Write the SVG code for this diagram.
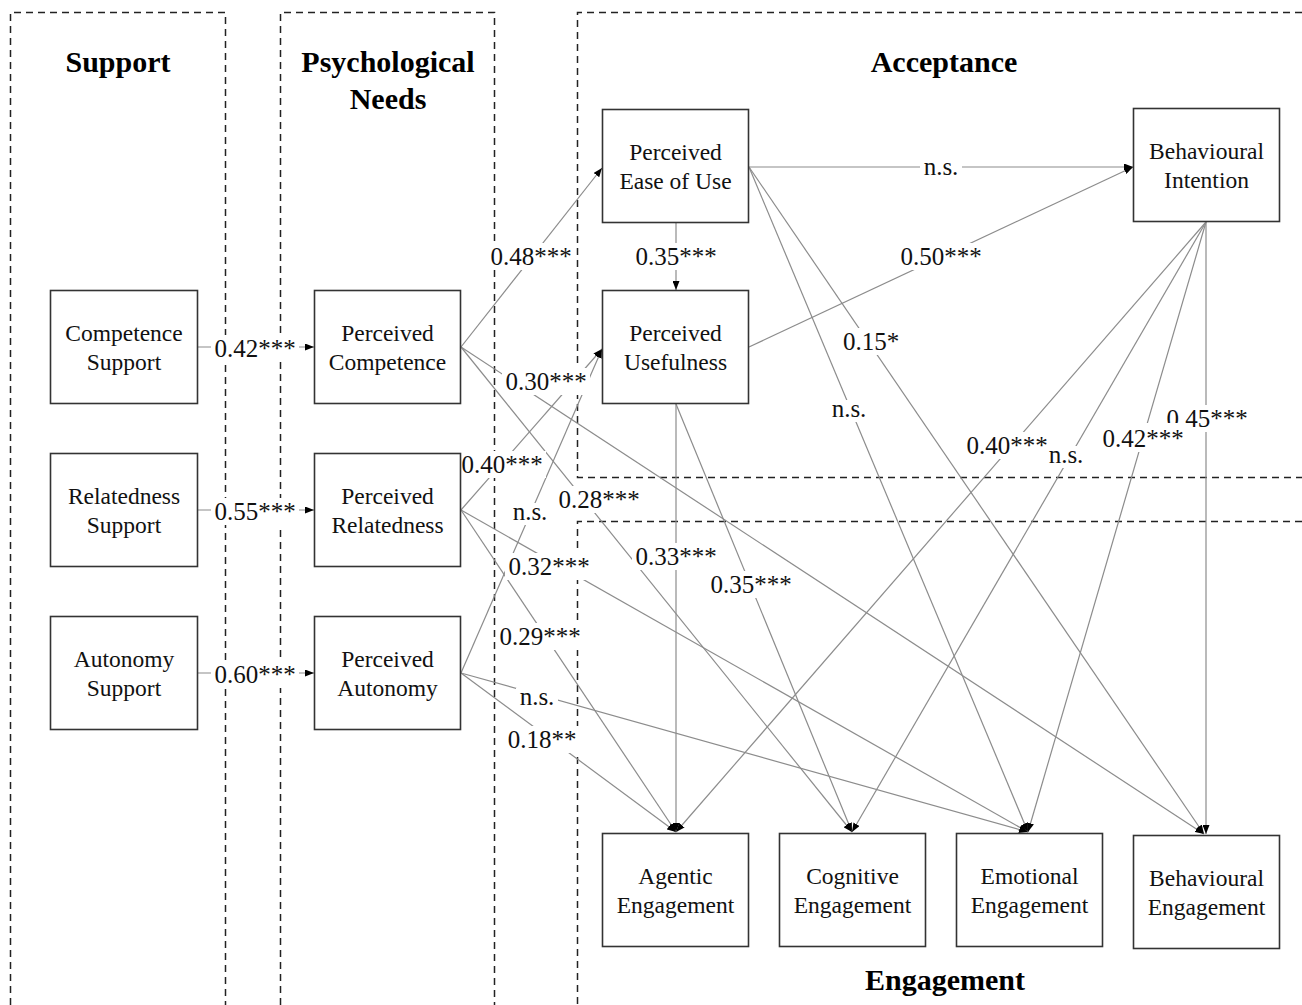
<svg xmlns="http://www.w3.org/2000/svg" width="1302" height="1005" viewBox="0 0 1302 1005">
<defs>
<marker id="ah" markerUnits="userSpaceOnUse" markerWidth="9" markerHeight="7" refX="9" refY="3.5" orient="auto">
<path d="M0,0 L9,3.5 L0,7 z" fill="#000"/>
</marker>
<style>
.dash{fill:none;stroke:#222;stroke-width:1.5;stroke-dasharray:7 5}
.title{font-family:"Liberation Serif","Times New Roman",serif;font-weight:bold;font-size:30px;fill:#000;text-anchor:middle}
.box{fill:#fff;stroke:#333;stroke-width:1.6}
.nt{font-family:"Liberation Serif","Times New Roman",serif;font-size:23.5px;fill:#111;text-anchor:middle}
.edge{fill:none;stroke:#8c8c8c;stroke-width:1.2;marker-end:url(#ah)}
.lb{fill:#fff}
.lt{font-family:"Liberation Serif","Times New Roman",serif;font-size:25px;fill:#111;text-anchor:middle}
</style>
</defs>
<rect width="1302" height="1005" fill="#fff"/>

<g id="groups">
<path class="dash" d="M10.5,1005 V12.5 H225.5 V1005"/>
<path class="dash" d="M280.5,1005 V12.5 H494.5 V1005"/>
<path class="dash" d="M1302,12.5 H577.5 V477.5 H1302"/>
<path class="dash" d="M1302,521.5 H577.5 V1005"/>
<text class="title" x="118" y="72">Support</text>
<text class="title" x="388" y="72">Psychological</text>
<text class="title" x="388" y="109">Needs</text>
<text class="title" x="944" y="72">Acceptance</text>
<text class="title" x="945" y="990">Engagement</text>
</g>

<g id="connectors">
<line class="edge" x1="197" y1="347" x2="314" y2="347"/>
<line class="edge" x1="197" y1="510" x2="314" y2="510"/>
<line class="edge" x1="197" y1="673" x2="314" y2="673"/>
<line class="edge" x1="461" y1="347" x2="602" y2="168"/>
<line class="edge" x1="676" y1="223" x2="676" y2="290"/>
<line class="edge" x1="461" y1="510" x2="602" y2="349"/>
<line class="edge" x1="461" y1="673" x2="602" y2="349"/>
<line class="edge" x1="749" y1="167" x2="1133" y2="167"/>
<line class="edge" x1="749" y1="347" x2="1133" y2="167"/>
<line class="edge" x1="749" y1="167" x2="1028" y2="832"/>
<line class="edge" x1="749" y1="167" x2="1204" y2="834"/>
<line class="edge" x1="676" y1="404" x2="676" y2="832"/>
<line class="edge" x1="676" y1="404" x2="852" y2="832"/>
<line class="edge" x1="1206" y1="222" x2="676" y2="832"/>
<line class="edge" x1="1206" y1="222" x2="852" y2="832"/>
<line class="edge" x1="1206" y1="222" x2="1028" y2="832"/>
<line class="edge" x1="1206" y1="222" x2="1206" y2="834"/>
<line class="edge" x1="461" y1="347" x2="852" y2="832"/>
<line class="edge" x1="461" y1="347" x2="1204" y2="834"/>
<line class="edge" x1="461" y1="510" x2="676" y2="832"/>
<line class="edge" x1="461" y1="510" x2="1028" y2="832"/>
<line class="edge" x1="461" y1="673" x2="676" y2="832"/>
<line class="edge" x1="461" y1="673" x2="1028" y2="832"/>
</g>

<g id="labels">
<rect class="lb" x="211" y="335" width="88" height="27"/><text class="lt" x="255" y="357">0.42***</text>
<rect class="lb" x="211" y="498" width="88" height="27"/><text class="lt" x="255" y="520">0.55***</text>
<rect class="lb" x="211" y="661" width="88" height="27"/><text class="lt" x="255" y="683">0.60***</text>
<rect class="lb" x="487" y="243" width="88" height="27"/><text class="lt" x="531" y="265">0.48***</text>
<rect class="lb" x="632" y="243" width="88" height="27"/><text class="lt" x="676" y="265">0.35***</text>
<rect class="lb" x="920" y="158" width="42" height="22"/><text class="lt" x="941" y="175">n.s.</text>
<rect class="lb" x="897" y="243" width="88" height="27"/><text class="lt" x="941" y="265">0.50***</text>
<rect class="lb" x="502" y="368" width="88" height="27"/><text class="lt" x="546" y="390">0.30***</text>
<rect class="lb" x="840" y="328" width="62" height="27"/><text class="lt" x="871" y="350">0.15*</text>
<rect class="lb" x="828" y="400" width="42" height="22"/><text class="lt" x="849" y="417">n.s.</text>
<rect class="lb" x="458" y="451" width="88" height="27"/><text class="lt" x="502" y="473">0.40***</text>
<rect class="lb" x="509" y="503" width="42" height="22"/><text class="lt" x="530" y="520">n.s.</text>
<rect class="lb" x="555" y="486" width="88" height="27"/><text class="lt" x="599" y="508">0.28***</text>
<rect class="lb" x="505" y="553" width="88" height="27"/><text class="lt" x="549" y="575">0.32***</text>
<rect class="lb" x="632" y="543" width="88" height="27"/><text class="lt" x="676" y="565">0.33***</text>
<rect class="lb" x="707" y="571" width="88" height="27"/><text class="lt" x="751" y="593">0.35***</text>
<rect class="lb" x="496" y="623" width="88" height="27"/><text class="lt" x="540" y="645">0.29***</text>
<rect class="lb" x="516" y="688" width="42" height="22"/><text class="lt" x="537" y="705">n.s.</text>
<rect class="lb" x="504" y="726" width="76" height="27"/><text class="lt" x="542" y="748">0.18**</text>
<rect class="lb" x="1163" y="405" width="88" height="27"/><text class="lt" x="1207" y="427">0.45***</text>
<rect class="lb" x="963" y="432" width="88" height="27"/><text class="lt" x="1007" y="454">0.40***</text>
<rect class="lb" x="1045" y="446" width="42" height="22"/><text class="lt" x="1066" y="463">n.s.</text>
<rect class="lb" x="1100" y="423" width="87" height="29"/><text class="lt" x="1143" y="447">0.42***</text>
</g>

<g id="n_comp_support"><rect class="box" x="50.5" y="290.5" width="147" height="113"/><text class="nt" x="124" y="341">Competence</text><text class="nt" x="124" y="370">Support</text></g>
<g id="n_rel_support"><rect class="box" x="50.5" y="453.5" width="147" height="113"/><text class="nt" x="124" y="504">Relatedness</text><text class="nt" x="124" y="533">Support</text></g>
<g id="n_aut_support"><rect class="box" x="50.5" y="616.5" width="147" height="113"/><text class="nt" x="124" y="667">Autonomy</text><text class="nt" x="124" y="696">Support</text></g>
<g id="n_p_comp"><rect class="box" x="314.5" y="290.5" width="146" height="113"/><text class="nt" x="387.5" y="341">Perceived</text><text class="nt" x="387.5" y="370">Competence</text></g>
<g id="n_p_rel"><rect class="box" x="314.5" y="453.5" width="146" height="113"/><text class="nt" x="387.5" y="504">Perceived</text><text class="nt" x="387.5" y="533">Relatedness</text></g>
<g id="n_p_aut"><rect class="box" x="314.5" y="616.5" width="146" height="113"/><text class="nt" x="387.5" y="667">Perceived</text><text class="nt" x="387.5" y="696">Autonomy</text></g>
<g id="n_peou"><rect class="box" x="602.5" y="109.5" width="146" height="113"/><text class="nt" x="675.5" y="160">Perceived</text><text class="nt" x="675.5" y="189">Ease of Use</text></g>
<g id="n_pu"><rect class="box" x="602.5" y="290.5" width="146" height="113"/><text class="nt" x="675.5" y="341">Perceived</text><text class="nt" x="675.5" y="370">Usefulness</text></g>
<g id="n_bi"><rect class="box" x="1133.5" y="108.5" width="146" height="113"/><text class="nt" x="1206.5" y="159">Behavioural</text><text class="nt" x="1206.5" y="188">Intention</text></g>
<g id="n_agentic"><rect class="box" x="602.5" y="833.5" width="146" height="113"/><text class="nt" x="675.5" y="884">Agentic</text><text class="nt" x="675.5" y="913">Engagement</text></g>
<g id="n_cognitive"><rect class="box" x="779.5" y="833.5" width="146" height="113"/><text class="nt" x="852.5" y="884">Cognitive</text><text class="nt" x="852.5" y="913">Engagement</text></g>
<g id="n_emotional"><rect class="box" x="956.5" y="833.5" width="146" height="113"/><text class="nt" x="1029.5" y="884">Emotional</text><text class="nt" x="1029.5" y="913">Engagement</text></g>
<g id="n_beh_eng"><rect class="box" x="1133.5" y="835.5" width="146" height="113"/><text class="nt" x="1206.5" y="886">Behavioural</text><text class="nt" x="1206.5" y="915">Engagement</text></g>
</svg>
